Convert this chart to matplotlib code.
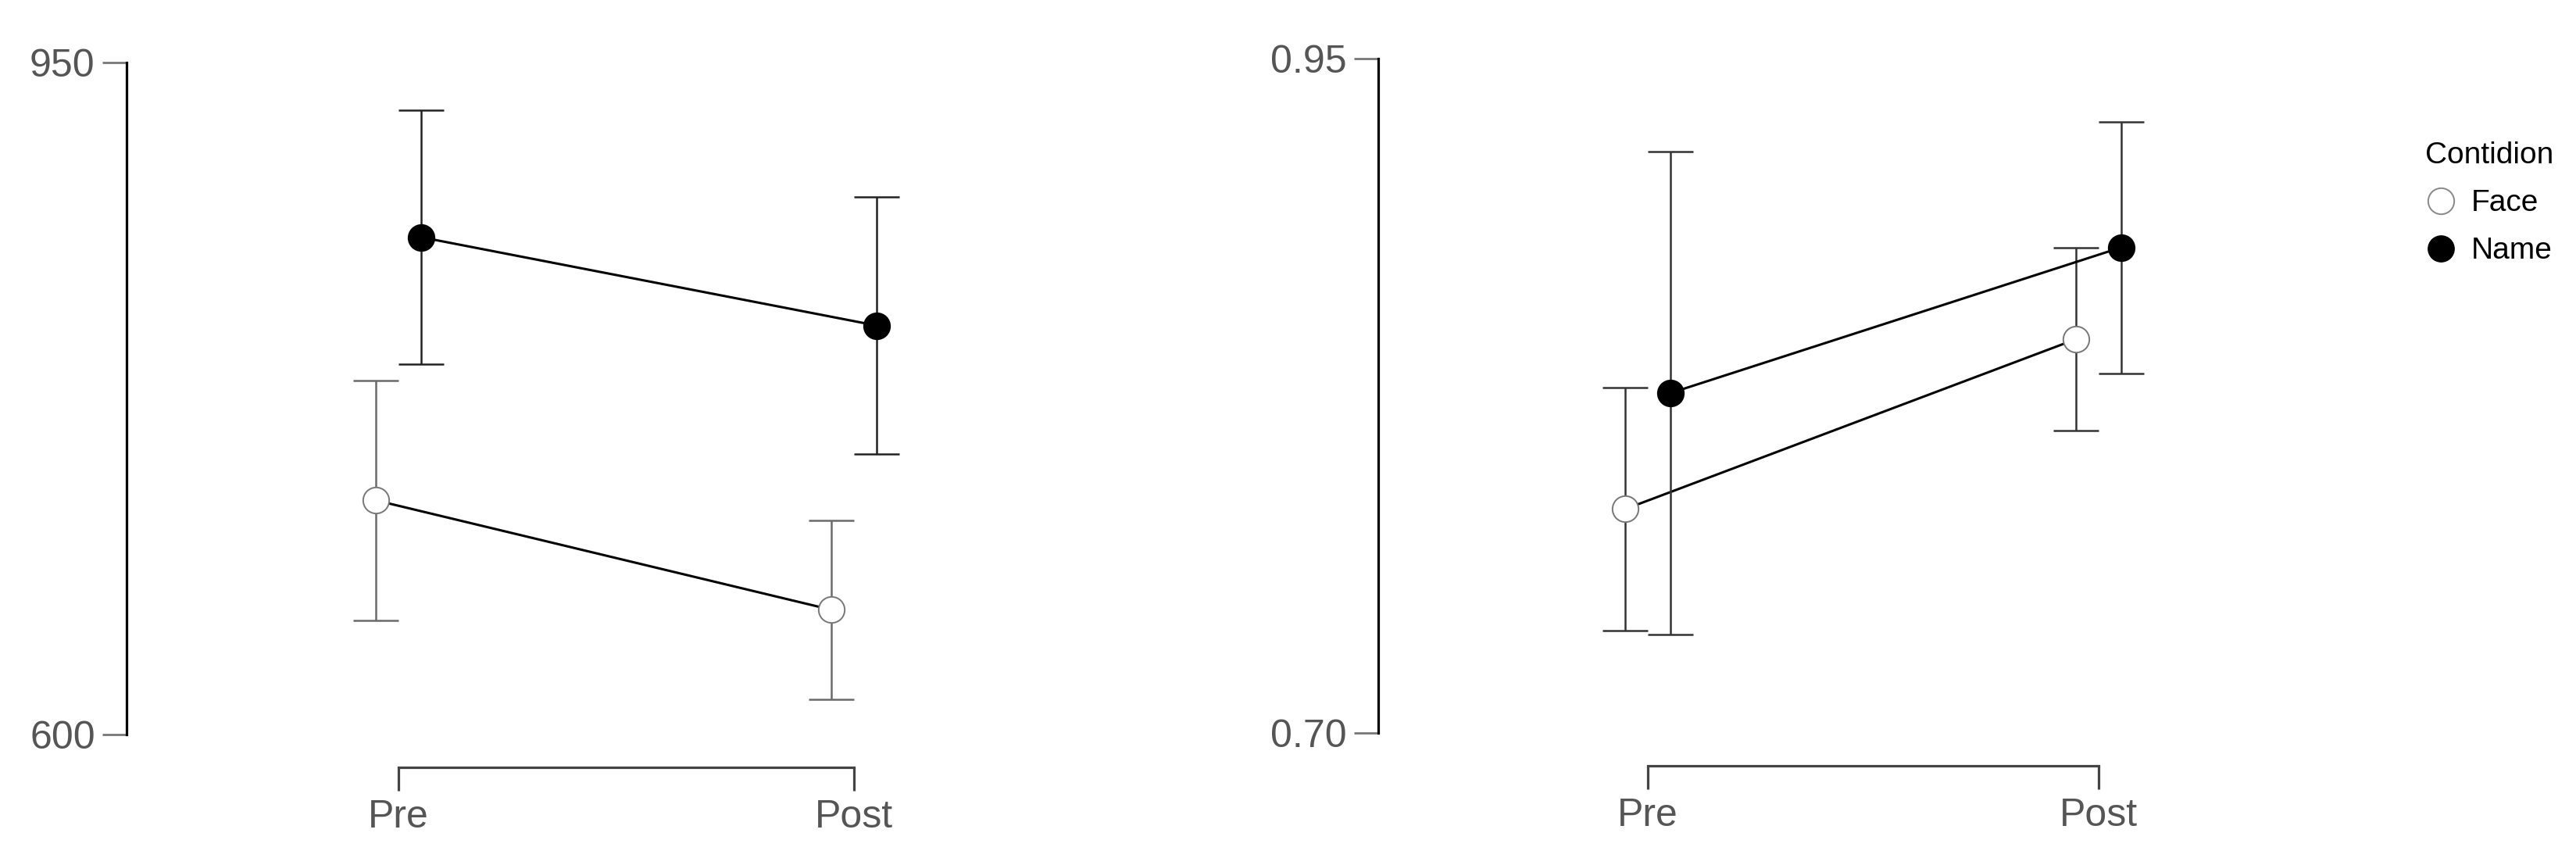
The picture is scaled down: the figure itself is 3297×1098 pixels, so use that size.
import matplotlib
matplotlib.use("Agg")
import matplotlib.pyplot as plt
from matplotlib.lines import Line2D

plt.rcParams['font.family'] = ['Liberation Sans', 'DejaVu Sans']

# data
time_labels = ['Pre', 'Post']
conditions = ['Face', 'Name']

rt_face = [722, 665]
rt_face_err = [62.5, 46.5]
rt_name = [859, 813]
rt_name_err = [66, 67]

acc_face = [0.783, 0.846]
acc_face_err = [0.045, 0.034]
acc_name = [0.826, 0.880]
acc_name_err = [0.0895, 0.0466]

W, H = 3297, 1098
DPI = 100
dodge = 0.05


def px_axes(fig, left, top, bottom, pre_x, unit):
    # place an axes from pixel measurements, x in data units around Pre=0
    x0 = (left - pre_x) / unit
    x1 = 1.3
    width = (x1 - x0) * unit
    ax = fig.add_axes([left / W, 1 - bottom / H, width / W, (bottom - top) / H])
    ax.set_xlim(x0, x1)
    return ax


def style_axes(ax, ylo, yhi, yticklabels):
    ax.set_ylim(ylo, yhi)
    ax.set_yticks([ylo, yhi])
    ax.set_yticklabels(yticklabels)
    ax.set_xticks([0, 1])
    ax.set_xticklabels(time_labels)
    for s in ['top', 'right']:
        ax.spines[s].set_visible(False)
    ax.spines['left'].set_bounds(ylo, yhi)
    ax.spines['left'].set_linewidth(2.3)
    ax.spines['left'].set_color('black')
    ax.spines['bottom'].set_bounds(0, 1)
    ax.spines['bottom'].set_position(('outward', 30.2))
    ax.spines['bottom'].set_linewidth(2.3)
    ax.spines['bottom'].set_color('#444444')
    ax.tick_params(axis='y', length=22, width=2.0, color='#777777',
                   labelsize=36, labelcolor='#555555', pad=7)
    ax.tick_params(axis='x', length=21.5, width=2.3, color='#444444',
                   labelsize=36, labelcolor='#555555', pad=8)
    ax.patch.set_alpha(0)


def draw_series(ax, xs, ys, errs, fill, edge, ecolor, z):
    ax.errorbar(xs, ys, yerr=errs, fmt='none', ecolor=ecolor, elinewidth=1.8,
                capsize=21, capthick=1.8, zorder=z)
    ax.plot(xs, ys, color='black', linewidth=2.2, zorder=z + 1)
    ax.plot(xs, ys, linestyle='none', marker='o', markersize=24,
            markerfacecolor=fill, markeredgecolor=edge, markeredgewidth=1.4,
            zorder=z + 2)


fig = plt.figure(figsize=(W / DPI, H / DPI), dpi=DPI)

x_face = [0 - dodge, 1 - dodge]
x_name = [0 + dodge, 1 + dodge]

# left panel: reaction times
ax1 = px_axes(fig, 162, 80, 940, 510, 583)
style_axes(ax1, 600, 950, ['600', '950'])
draw_series(ax1, x_face, rt_face, rt_face_err, 'white', '#777777', '#6a6a6a', 2)
draw_series(ax1, x_name, rt_name, rt_name_err, 'black', 'black', '#222222', 5)

# right panel: accuracy
ax2 = px_axes(fig, 1764, 75, 938, 2109, 577)
style_axes(ax2, 0.70, 0.95, ['0.70', '0.95'])
draw_series(ax2, x_face, acc_face, acc_face_err, 'white', '#777777', '#333333', 2)
draw_series(ax2, x_name, acc_name, acc_name_err, 'black', 'black', '#333333', 5)

handles = [
    Line2D([], [], linestyle='none', marker='o', markersize=24,
           markerfacecolor='white', markeredgecolor='#888888', markeredgewidth=1.4),
    Line2D([], [], linestyle='none', marker='o', markersize=24,
           markerfacecolor='black', markeredgecolor='black'),
]
leg = fig.legend(handles, conditions, title='Contidion', loc='upper left',
                 bbox_to_anchor=(3085 / W, 1 - 162 / H), frameon=False,
                 fontsize=28, title_fontsize=28, handlelength=1.0,
                 handletextpad=0.5, labelspacing=0.64, borderpad=0)
leg._legend_box.align = 'left'

fig.savefig('out.png', dpi=DPI)
